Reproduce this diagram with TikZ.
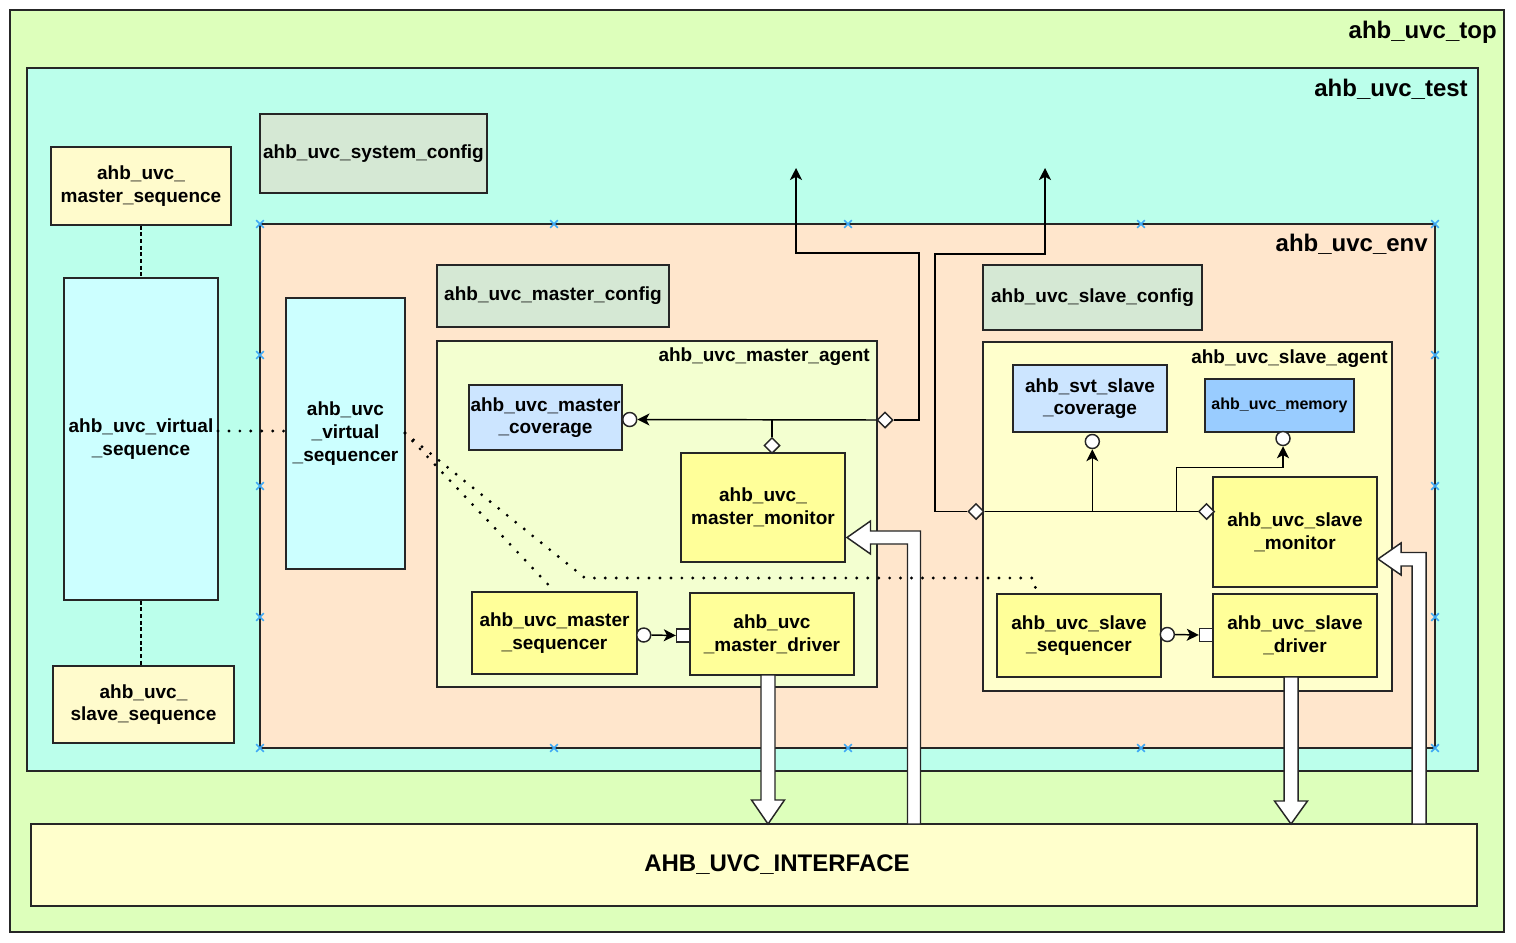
\documentclass[tikz,border=0pt]{standalone}
\usepackage{fontspec}
\setmainfont{Liberation Sans}
\usetikzlibrary{arrows.meta,shapes.geometric}
\definecolor{lc}{HTML}{262626}
\definecolor{cTop}{HTML}{DDFFBB}
\definecolor{cTest}{HTML}{BBFFEB}
\definecolor{cEnv}{HTML}{FFE6CC}
\definecolor{cCfg}{HTML}{D5E8D4}
\definecolor{cSeqBox}{HTML}{FFFBCC}
\definecolor{cVirt}{HTML}{CCFFFF}
\definecolor{cMAg}{HTML}{F3FFD0}
\definecolor{cSAg}{HTML}{FFFFCC}
\definecolor{cCov}{HTML}{CCE5FF}
\definecolor{cMem}{HTML}{99CCFF}
\definecolor{cYel}{HTML}{FFFF99}
\definecolor{cIf}{HTML}{FFFFCC}
\definecolor{xblue}{HTML}{3FA9F5}
\newcommand\cmpfont{\bfseries\fontsize{14.25}{17}\selectfont}
\newcommand\smfont{\bfseries\fontsize{12}{14}\selectfont}
\newcommand\ttlfont{\bfseries\fontsize{18}{21}\selectfont}
% box from pixel corners: \bx[style]{x1}{y1}{x2}{y2}{name}{text}
\newcommand\bx[7][]{\node[comp,#1,minimum width={(#4-#2)*0.75pt},minimum height={(#5-#3)*0.75pt}] (#6) at ({(#2+#4)/2},{(#3+#5)/2}) {#7};}
\tikzset{
  frame/.style={draw=lc, line width=1.1pt, inner sep=0pt},
  comp/.style={frame, font=\cmpfont, align=center},
  port/.style={draw=lc, fill=white, line width=1.1pt, inner sep=0pt},
  pcirc/.style={port, circle, minimum size=10.5pt},
  psq/.style={port, rectangle, minimum size=9.75pt},
  pdia/.style={port, diamond, minimum width=12pt, minimum height=12pt},
  conn/.style={draw=black, line width=1.1pt},
  arr/.style={conn, -{Stealth[length=9pt,width=9pt,inset=2.4pt]}},
  dots/.style={line width=2.4pt, line cap=round, dash pattern=on 0pt off 8.2pt},
  dashv/.style={line width=1pt, dash pattern=on 3pt off 2pt},
  blockarr/.style={draw=lc, fill=white, line width=1.1pt, line join=miter},
  xm/.style={draw=xblue, line width=1.3pt},
  ctitle/.style={font=\ttlfont, anchor=east, inner sep=0pt},
  atitle/.style={font=\cmpfont, anchor=east, inner sep=0pt},
}
\begin{document}
\begin{tikzpicture}[x=0.75pt,y=-0.75pt]
\fill[white] (0,0) rectangle (1516,942);
\useasboundingbox (0,0) rectangle (1516,942);
% containers
\bx[fill=cTop]{10}{10}{1504}{932}{top}{}
\node[ctitle] (ttop) at (1497,32) {ahb\_uvc\_top};
\bx[fill=cTest]{27}{68}{1478}{771}{test}{}
\node[ctitle] (ttest) at (1468,89) {ahb\_uvc\_test};
\bx[fill=cCfg]{260}{114}{487}{193}{sysc}{ahb\_uvc\_system\_config}
\bx[fill=cSeqBox]{51}{147}{231}{225}{mseq}{ahb\_uvc\_\\master\_sequence}
\bx[fill=cVirt]{64}{278}{218}{600}{vseq}{ahb\_uvc\_virtual\\\_sequence}
\bx[fill=cSeqBox]{53}{666}{234}{743}{sseq}{ahb\_uvc\_\\slave\_sequence}
\bx[fill=cEnv]{260}{224}{1435}{748}{env}{}
\node[ctitle] (tenv) at (1428,244) {ahb\_uvc\_env};
\bx[fill=cVirt]{286}{298}{405}{569}{vseqr}{ahb\_uvc\\\_virtual\\\_sequencer}
\bx[fill=cCfg]{437}{265}{669}{327}{mcfg}{ahb\_uvc\_master\_config}
\bx[fill=cCfg]{983}{265}{1202}{330}{scfg}{ahb\_uvc\_slave\_config}
% master agent
\bx[fill=cMAg]{437}{341}{877}{687}{magent}{}
\node[atitle] (tmag) at (870,357) {ahb\_uvc\_master\_agent};
\bx[fill=cCov]{469}{385}{622}{450}{mcov}{ahb\_uvc\_master\\\_coverage}
\bx[fill=cYel]{681}{453}{845}{562}{mmon}{ahb\_uvc\_\\master\_monitor}
\bx[fill=cYel]{472}{592}{637}{674}{mseqr}{ahb\_uvc\_master\\\_sequencer}
\bx[fill=cYel]{690}{593}{854}{675}{mdrv}{ahb\_uvc\\\_master\_driver}
% slave agent
\bx[fill=cSAg]{983}{342}{1392}{691}{sagent}{}
\node[atitle] (tsag) at (1388,359) {ahb\_uvc\_slave\_agent};
\bx[fill=cCov]{1013}{365}{1167}{432}{scov}{ahb\_svt\_slave\\\_coverage}
\bx[fill=cMem, font=\smfont]{1205}{379}{1354}{432}{smem}{ahb\_uvc\_memory}
\bx[fill=cYel]{1213}{477}{1377}{587}{smon}{ahb\_uvc\_slave\\\_monitor}
\bx[fill=cYel]{997}{594}{1161}{677}{sseqr}{ahb\_uvc\_slave\\\_sequencer}
\bx[fill=cYel]{1213}{594}{1377}{677}{sdrv}{ahb\_uvc\_slave\\\_driver}
% interface
\bx[fill=cIf]{31}{824}{1477}{906}{intf}{}
\node[font=\ttlfont, inner sep=0pt] (tintf) at (777,865) {AHB\_UVC\_INTERFACE};
% env markers
\foreach \x/\y in {260/224,554/224,848/224,1141/224,1435/224,260/748,554/748,848/748,1141/748,1435/748,260/355,260/486,260/617,1435/355,1435/486,1435/617}
  \draw[xm] (\x,\y) +(-3.8,-3.8) -- +(3.8,3.8) (\x,\y) +(-3.8,3.8) -- +(3.8,-3.8);
% ports
\node[pdia] (dMA) at (885,420) {};
\node[pcirc] (cMC) at (629.7,419.5) {};
\node[pdia] (dMM) at (772,445.5) {};
\node[pcirc] (cMS) at (643.7,635) {};
\node[psq] (sMD) at (683,635.5) {};
\node[pdia] (dSA) at (976,511.5) {};
\node[pdia] (dSM) at (1206.5,511.5) {};
\node[pcirc] (cSC) at (1092.3,441.5) {};
\node[pcirc] (cSMem) at (1283,438.5) {};
\node[pcirc] (cSS) at (1167.3,634.5) {};
\node[psq] (sSD) at (1206,635) {};
\coordinate (mUp) at (796,168);
\coordinate (sUp) at (1045,168);
\coordinate (sBr) at (1176.7,511.5);
% connectors
\draw[arr] (dMA.west) -- (cMC.east);
\draw[conn] (dMM.north) -- (dMM.north |- dMA.west);
\draw[arr] (dMA.east) -| (919,253) -| (mUp);
\draw[arr] (dSA.west) -| (935,254) -| (sUp);
\draw[conn] (dSA.east) -- (dSM.west);
\draw[arr] (cSC.south |- dSA.east) -- (cSC.south);
\draw[arr] (sBr) |- (1283,467.3) -- (cSMem.south);
\draw[arr] (cMS.east) -- (sMD.west);
\draw[arr] (cSS.east) -- (sSD.west);
\draw[dashv] (mseq.south) -- (vseq.north);
\draw[dashv] (vseq.south) -- (vseq.south |- sseq.north);
% block arrows
\draw[blockarr] (761,675) -- (775,675) -- (775,800) -- (784.5,800) -- (768,824) -- (751.5,800) -- (761,800) -- cycle;
\draw[blockarr] (1284,677) -- (1298,677) -- (1298,801) -- (1307.5,801) -- (1291,824) -- (1274.5,801) -- (1284,801) -- cycle;
\draw[blockarr] (907.5,824) -- (920.5,824) -- (920.5,531) -- (870.5,531) -- (870.5,521) -- (847,537.5) -- (870.5,554) -- (870.5,544) -- (907.5,544) -- cycle;
\draw[blockarr] (1412,824) -- (1426,824) -- (1426,552.5) -- (1401,552.5) -- (1401,543) -- (1378,559) -- (1401,575) -- (1401,566) -- (1412,566) -- cycle;
% dotted links
\draw[dots] (218,431) -- (286,431);
\draw[dots] (405,433) -- (mseqr.north);
\draw[dots] (405,433) -- (585,578) -- (1033,578) -- (1037,594);
\end{tikzpicture}
\end{document}
